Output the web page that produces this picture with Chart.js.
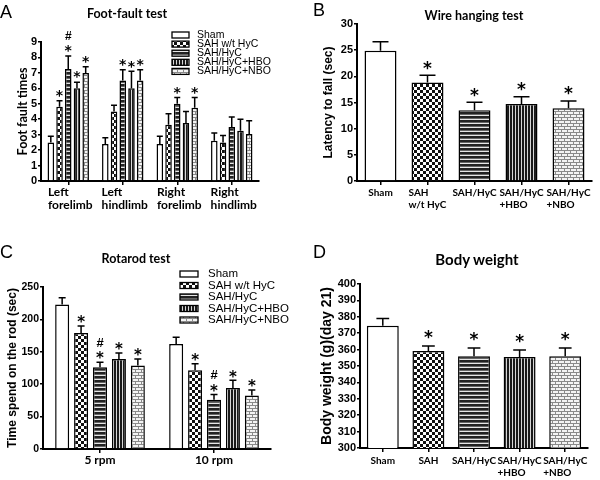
<!DOCTYPE html>
<html>
<head>
<meta charset="utf-8">
<script src="https://cdn.jsdelivr.net/npm/chart.js@4.4.0/dist/chart.umd.min.js"></script>
<style>
  body { margin: 0; background: #fff; width: 600px; height: 480px; position: relative; overflow: hidden; }
  .panel { position: absolute; width: 300px; height: 240px; }
  .panel canvas { position: absolute; left: 0; top: 0; }
  .letter { position: absolute; font: 18px/18px "Liberation Sans", Arial, sans-serif; color: #000; }
  .title { position: absolute; font-family: Lato, sans-serif; font-weight: bold; line-height: 1.2; color: #000; white-space: nowrap; transform: translateX(-50%); }
</style>
</head>
<body>
<div class="panel" style="left:0;top:0">
  <canvas id="chartA" width="300" height="240"></canvas>
  <div class="letter" style="left:0;top:3px">A</div>
  <div class="title" style="left:127px;top:6px;font-size:12.5px">Foot-fault test</div>
</div>
<div class="panel" style="left:300px;top:0">
  <canvas id="chartB" width="300" height="240"></canvas>
  <div class="letter" style="left:13px;top:1px">B</div>
  <div class="title" style="left:174px;top:8px;font-size:12.5px">Wire hanging test</div>
</div>
<div class="panel" style="left:0;top:240px">
  <canvas id="chartC" width="300" height="240"></canvas>
  <div class="letter" style="left:0;top:3px">C</div>
  <div class="title" style="left:136px;top:11px;font-size:12.5px">Rotarod test</div>
</div>
<div class="panel" style="left:300px;top:240px">
  <canvas id="chartD" width="300" height="240"></canvas>
  <div class="letter" style="left:13px;top:3px">D</div>
  <div class="title" style="left:177px;top:10px;font-size:15px">Body weight</div>
</div>
<script>
const groupNames = ["Sham", "SAH w/t HyC", "SAH/HyC", "SAH/HyC+HBO", "SAH/HyC+NBO"];

// A - foot-fault test (rows = groups, columns = limbs)
const ffLabels = [["Left", "forelimb"], ["Left", "hindlimb"], ["Right", "forelimb"], ["Right", "hindlimb"]];
const ffMean = [
  [2.5, 2.4, 2.4, 2.6],
  [4.8, 4.5, 3.65, 2.5],
  [7.25, 6.5, 5.0, 3.5],
  [6.0, 6.0, 3.75, 3.25],
  [7.0, 6.5, 4.75, 3.05],
];
const ffErr = [
  [0.4, 0.4, 0.5, 0.5],
  [0.4, 0.4, 0.7, 0.45],
  [0.85, 0.7, 0.4, 0.65],
  [0.4, 1.1, 0.75, 0.75],
  [0.4, 0.7, 0.65, 0.85],
];
const ffMarks = [
  ["", "", "", ""],
  ["*", "", "", ""],
  ["#*", "*", "*", ""],
  ["*", "*", "", ""],
  ["*", "*", "*", ""],
];

// B - wire hanging test
const whLabels = [["Sham"], ["SAH", "w/t HyC"], ["SAH/HyC"], ["SAH/HyC", "+HBO"], ["SAH/HyC", "+NBO"]];
const whMean = [24.9, 18.8, 13.5, 14.7, 13.9];
const whErr = [1.7, 1.4, 1.55, 1.4, 1.4];
const whMarks = ["", "*", "*", "*", "*"];

// C - rotarod test
const rrLabels = [["5 rpm"], ["10 rpm"]];
const rrMean = [
  [223, 162],
  [179, 121.5],
  [126, 76],
  [139, 94],
  [129, 82.5],
];
const rrErr = [
  [10.5, 10.5],
  [11, 10],
  [8, 8],
  [9, 12],
  [10, 8.5],
];
const rrMarks = [
  ["", ""],
  ["*", "*"],
  ["#*", "#*"],
  ["*", "*"],
  ["*", "*"],
];

// D - body weight
const bwLabels = [["Sham"], ["SAH"], ["SAH/HyC"], ["SAH/HyC", "+HBO"], ["SAH/HyC", "+NBO"]];
const bwMean = [374.5, 359.2, 355.9, 355.5, 355.9];
const bwErr = [4.5, 3, 5, 4.3, 5];
const bwMarks = ["", "*", "*", "*", "*"];

// fill patterns, one per group
function tile(w, h, paint) {
  const c = document.createElement("canvas");
  c.width = w; c.height = h;
  const g = c.getContext("2d");
  paint(g);
  return document.createElement("canvas").getContext("2d").createPattern(c, "repeat");
}
const fills = [
  "#ffffff",
  tile(6, 6, (g) => {
    g.fillStyle = "#fff"; g.fillRect(0, 0, 6, 6);
    g.fillStyle = "#111"; g.fillRect(0, 0, 3, 3); g.fillRect(3, 3, 3, 3);
  }),
  tile(4, 4, (g) => {
    g.fillStyle = "#222"; g.fillRect(0, 0, 4, 2);
    g.fillStyle = "#666"; g.fillRect(0, 2, 4, 1);
    g.fillStyle = "#e6e6e6"; g.fillRect(0, 3, 4, 1);
  }),
  tile(3, 3, (g) => {
    g.fillStyle = "#1a1a1a"; g.fillRect(0, 0, 2, 3);
    g.fillStyle = "#d8d8d8"; g.fillRect(2, 0, 1, 3);
  }),
  tile(6, 6, (g) => {
    g.fillStyle = "#f4f4f4"; g.fillRect(0, 0, 6, 6);
    g.fillStyle = "#8a8a8a";
    g.fillRect(0, 0, 6, 1); g.fillRect(0, 3, 6, 1);
    g.fillRect(0, 1, 1, 2); g.fillRect(3, 4, 1, 2);
  }),
];

const decor = {
  id: "decor",
  afterDatasetsDraw(chart, args, o) {
    const ctx = chart.ctx;
    const ys = chart.scales.y;
    ctx.save();
    ctx.strokeStyle = "#000";
    ctx.fillStyle = "#000";
    ctx.lineWidth = 1.5;
    chart.data.datasets.forEach((ds, i) => {
      chart.getDatasetMeta(i).data.forEach((bar, j) => {
        const top = ys.getPixelForValue(ds.data[j] + ds.err[j]);
        const cap = Math.max(bar.width * o.cap, 6) / 2;
        ctx.beginPath();
        ctx.moveTo(bar.x, bar.y);
        ctx.lineTo(bar.x, top);
        ctx.moveTo(bar.x - cap, top);
        ctx.lineTo(bar.x + cap, top);
        ctx.stroke();
        const m = ds.marks[j];
        let cy = top - o.gap;
        ctx.textAlign = "center";
        ctx.textBaseline = "alphabetic";
        for (let k = m.length - 1; k >= 0; k--) {
          if (m[k] === "*") {
            ctx.font = `bold ${o.star}px "DejaVu Sans"`;
            ctx.fillText("*", bar.x, cy + o.star * 0.55);
          } else {
            ctx.font = `bold ${o.hashSize}px "Liberation Sans"`;
            ctx.fillText(m[k], bar.x, cy + o.hashSize * 0.36);
          }
          cy -= o.hash;
        }
      });
    });
    ctx.restore();
  },
  afterDraw(chart, args, o) {
    const ctx = chart.ctx;
    const xs = chart.scales.x;
    ctx.save();
    ctx.fillStyle = "#000";
    ctx.font = `bold ${o.xSize}px Lato`;
    ctx.textAlign = "left";
    ctx.textBaseline = "middle";
    chart.data.labels.forEach((lab, i) => {
      const x = xs.getPixelForTick(i);
      const w = Math.max(...lab.map((s) => ctx.measureText(s).width));
      lab.forEach((s, k) => ctx.fillText(s, x - w / 2 + o.xShift, o.xY + k * o.xLine));
    });
    const lg = o.legend;
    if (lg) {
      ctx.font = `${lg.size}px "Liberation Sans"`;
      ctx.lineWidth = 1.3;
      ctx.strokeStyle = "#000";
      chart.data.datasets.forEach((ds, i) => {
        const cy = lg.y + i * lg.dy;
        ctx.fillStyle = ds.backgroundColor;
        ctx.fillRect(lg.x, cy - lg.h / 2, lg.w, lg.h);
        ctx.strokeRect(lg.x, cy - lg.h / 2, lg.w, lg.h);
        ctx.fillStyle = "#000";
        ctx.fillText(ds.label, lg.tx, cy);
      });
    }
    ctx.restore();
  },
};

function makeChart(id, p) {
  return new Chart(document.getElementById(id), {
    type: "bar",
    data: { labels: p.labels, datasets: p.datasets },
    plugins: [decor],
    options: {
      responsive: false,
      animation: false,
      events: [],
      layout: { padding: p.pad },
      categoryPercentage: p.cat,
      barPercentage: p.bar,
      plugins: {
        legend: { display: false },
        tooltip: { enabled: false },
        decor: p.decor,
      },
      scales: {
        x: {
          offset: true,
          grid: { offset: false, drawOnChartArea: false, tickLength: 4, color: "#000", lineWidth: 1.5 },
          border: { color: "#000", width: 2 },
          ticks: { display: false },
          afterFit: (s) => { s.height = p.xh; },
        },
        y: {
          min: p.min,
          max: p.max,
          ticks: {
            stepSize: p.step,
            autoSkip: false,
            color: "#000",
            padding: 1,
            font: { family: "Liberation Sans", weight: "bold", size: p.tickSize },
          },
          grid: { drawOnChartArea: false, tickLength: 3, color: "#000", lineWidth: 1.5 },
          border: { color: "#000", width: 2 },
          title: {
            display: true,
            text: p.yTitle,
            color: "#000",
            font: { family: p.yFamily, weight: "bold", size: p.ySize },
            padding: { top: p.yTitlePad, bottom: 0 },
          },
          afterFit: (s) => { s.width = p.yw; },
        },
      },
    },
  });
}

function grouped(means, errs, marks) {
  return groupNames.map((name, i) => ({
    label: name,
    data: means[i],
    err: errs[i],
    marks: marks[i],
    backgroundColor: fills[i],
    borderColor: "#000",
    borderWidth: 1.5,
  }));
}

function single(means, errs, marks) {
  return [{
    label: "value",
    data: means,
    err: errs,
    marks: marks,
    backgroundColor: fills,
    borderColor: "#000",
    borderWidth: 1.5,
  }];
}

makeChart("chartA", {
  labels: ffLabels,
  datasets: grouped(ffMean, ffErr, ffMarks),
  pad: { left: 0, top: 42, right: 41, bottom: 0 },
  xh: 59, yw: 41, cat: 0.8, bar: 0.75,
  min: 0, max: 9, step: 1, tickSize: 11,
  yTitle: "Foot fault times", yFamily: "Lato", ySize: 12.5, yTitlePad: 15.5,
  decor: {
    cap: 0.9, gap: 8.5, hash: 12, star: 14, hashSize: 12,
    xSize: 12, xY: 192, xLine: 13, xShift: 2,
    legend: { x: 172, y: 35, dy: 9.1, w: 17, h: 6, tx: 197, size: 10.5 },
  },
});

makeChart("chartB", {
  labels: whLabels,
  datasets: single(whMean, whErr, whMarks),
  pad: { left: 0, top: 24, right: 8, bottom: 0 },
  xh: 59, yw: 57, cat: 0.85, bar: 0.8,
  min: 0, max: 30, step: 5, tickSize: 11,
  yTitle: "Latency to fall (sec)", yFamily: "Liberation Sans", ySize: 12, yTitlePad: 21,
  decor: {
    cap: 0.5, gap: 11, hash: 12, star: 17, hashSize: 12,
    xSize: 10, xY: 193, xLine: 12, xShift: 0,
  },
});

makeChart("chartC", {
  labels: rrLabels,
  datasets: grouped(rrMean, rrErr, rrMarks),
  pad: { left: 0, top: 47, right: 29, bottom: 0 },
  xh: 31, yw: 43, cat: 0.83, bar: 0.74,
  min: 0, max: 250, step: 50, tickSize: 10.5,
  yTitle: "Time spend on the rod (sec)", yFamily: "Liberation Sans", ySize: 12, yTitlePad: 5.5,
  decor: {
    cap: 0.5, gap: 7, hash: 13, star: 15, hashSize: 13,
    xSize: 12, xY: 220, xLine: 13, xShift: 0,
    legend: { x: 180, y: 34, dy: 11.5, w: 18, h: 6, tx: 208, size: 11.5 },
  },
});

makeChart("chartD", {
  labels: bwLabels,
  datasets: single(bwMean, bwErr, bwMarks),
  pad: { left: 0, top: 44, right: 12, bottom: 0 },
  xh: 32, yw: 60, cat: 0.875, bar: 0.8,
  min: 300, max: 400, step: 10, tickSize: 11,
  yTitle: "Body weight (g)(day 21)", yFamily: "Liberation Sans", ySize: 14, yTitlePad: 19,
  decor: {
    cap: 0.4, gap: 12.5, hash: 12, star: 17, hashSize: 12,
    xSize: 10, xY: 220.5, xLine: 12.5, xShift: 0,
  },
});
</script>
</body>
</html>
